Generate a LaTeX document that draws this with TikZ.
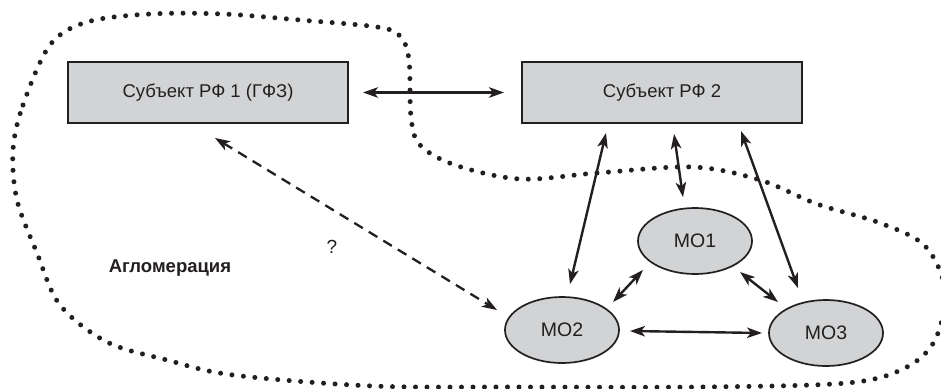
\documentclass[tikz,border=0pt]{standalone}
\usepackage{fontspec}
\setmainfont{Liberation Sans}
\usetikzlibrary{arrows.meta,calc,shapes.geometric}
\definecolor{fillgray}{RGB}{209,211,212}
\definecolor{ink}{RGB}{35,31,32}
\tikzset{
  boxnode/.style={draw=ink, line width=2pt, fill=fillgray, minimum width=280pt, minimum height=61pt, inner sep=0pt, font=\fontsize{18.5}{20}\selectfont, text=ink},
  monode/.style={ellipse, draw=ink, line width=1.7pt, fill=fillgray, minimum width=114pt, minimum height=66pt, inner sep=0pt, font=\fontsize{19.5}{21}\selectfont, text=ink},
  tipstyle/.tip={Stealth[length=15pt,width=10.5pt,inset=4pt]},
  biarrow/.style={draw=ink, line width=2.4pt, {tipstyle}-{tipstyle}},
  dasharrow/.style={draw=ink, line width=2.3pt, dash pattern=on 10pt off 7pt, {tipstyle}-{tipstyle}},
  dotline/.style={draw=ink, line width=5pt, line cap=round, dash pattern=on 0pt off 11.5pt},
  plainlabel/.style={font=\fontsize{19}{21}\selectfont, text=ink, inner sep=0pt},
  boldlabel/.style={font=\fontsize{18.5}{20}\selectfont\bfseries, text=ink, inner sep=0pt}
}
\begin{document}
\begin{tikzpicture}[x=1pt,y=-1pt]
\useasboundingbox (0,0) rectangle (941,388);
\begin{scope}
\clip (0,0) rectangle (941,388);
\draw[dotline] plot[smooth cycle, tension=0.55] coordinates {
 (13,150) (23,105) (50,45) (87,22) (150,14) (223,14) (300,20) (377,27) (400,36) (409,60) (411,117)
 (420,145) (455,165) (520,179) (597,173) (693,167) (760,180) (817,204) (880,223) (925,246)
 (945,290) (935,340) (905,368) (847,383) (700,387) (520,387) (373,386) (233,375) (167,360)
 (107,342) (60,305) (37,253) (17,200)};
\end{scope}
\node[boxnode] (s1) at (208,92.5) {Субъект РФ 1 (ГФЗ)};
\node[boxnode] (s2) at (662,92.5) {Субъект РФ 2};
\node[monode] (m1) at (695,241) {МО1};
\node[monode] (m2) at (562,330) {МО2};
\node[monode] (m3) at (826,333) {МО3};
\node[plainlabel] (q) at (332,247) {?};
\node[boldlabel] (agl) at (170,268) {Агломерация};
\draw[biarrow] ($(s1.east)+(14,0)$) -- ($(s2.west)+(-17,0)$);
\draw[biarrow] ($(s2.south west)+(85,9)$) -- ($(m2.north)+(8,-12)$);
\draw[biarrow] ($(s2.south west)+(153,10)$) -- ($(m1.north)+(-12,-10)$);
\draw[biarrow] ($(s2.south west)+(220,7)$) -- ($(m3.north)+(-28,-11)$);
\draw[biarrow] ($(m1.center)+(-52,29)$) -- ($(m2.center)+(51,-28)$);
\draw[biarrow] ($(m1.center)+(45,31)$) -- ($(m3.center)+(-48,-31)$);
\draw[biarrow] ($(m2.center)+(68,1)$) -- ($(m3.center)+(-64,0)$);
\draw[dasharrow] ($(s1.south)+(7,14)$) -- ($(m2.center)+(-65,-20)$);
\end{tikzpicture}
\end{document}
